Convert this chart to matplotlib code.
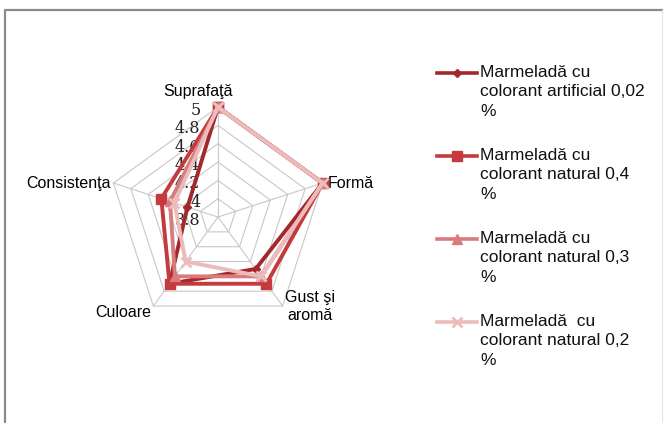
import numpy as np
import matplotlib.pyplot as plt
from matplotlib.lines import Line2D

plt.rcParams['font.family'] = ['Liberation Sans', 'DejaVu Sans']

# data
categories = ["Suprafaţă", "Formă", "Gust şi\naromă", "Culoare", "Consistenţa"]
art_002 = [5.0, 5.0, 4.5, 4.7, 4.15]
nat_04 = [5.0, 5.0, 4.7, 4.7, 4.45]
nat_03 = [5.0, 5.0, 4.6, 4.6, 4.35]
nat_02 = [5.0, 5.0, 4.6, 4.4, 4.3]
ticks = [3.8, 4.0, 4.2, 4.4, 4.6, 4.8, 5.0]
tick_labels = ["3.8", "4", "4.2", "4.4", "4.6", "4.8", "5"]
names = ["Marmeladă cu\ncolorant artificial 0,02\n%",
         "Marmeladă cu\ncolorant natural 0,4\n%",
         "Marmeladă cu\ncolorant natural 0,3\n%",
         "Marmeladă  cu\ncolorant natural 0,2\n%"]

R0, R1 = ticks[0], ticks[-1]
n = len(categories)
ang = np.pi / 2 - np.arange(n) * 2 * np.pi / n   # clockwise from top


def to_xy(vals, close=True):
    r = (np.asarray(vals, float) - R0) / (R1 - R0)
    a = ang
    if close:
        r = np.append(r, r[0])
        a = np.append(a, a[0])
    return r * np.cos(a), r * np.sin(a)


fig = plt.figure(figsize=(6.64, 4.23), dpi=100)
ax = fig.add_axes([0.0633, 0.0709, 0.530, 0.832])
ax.set_xlim(-1.6, 1.6)
ax.set_ylim(-1.6, 1.6)
ax.set_aspect('equal')
ax.axis('off')

# pentagon grid
for t in ticks[1:]:
    gx, gy = to_xy([t] * n)
    ax.plot(gx, gy, color='#c8c8c8', lw=0.8, zorder=1)
for a in ang:
    ax.plot([0, np.cos(a)], [0, np.sin(a)], color='#c8c8c8', lw=0.8, zorder=1)

# value labels along the top axis
for t, lab in zip(ticks, tick_labels):
    r = (t - R0) / (R1 - R0)
    ax.text(-0.16, r - 0.03, lab, ha='right', va='center', fontsize=11.5,
            family=['DejaVu Serif'], color='#222222')

# category labels
fs = 11.5
ax.text(-0.18, 1.07, categories[0], ha='center', va='bottom', fontsize=fs)
ax.text(np.cos(ang[1]) + 0.05, np.sin(ang[1]), categories[1], ha='left', va='center', fontsize=fs)
ax.text(np.cos(ang[2]) + 0.02, np.sin(ang[2]) + 0.15, categories[2], ha='left', va='top',
        fontsize=fs, multialignment='center', linespacing=1.25)
ax.text(np.cos(ang[3]) - 0.02, np.sin(ang[3]) - 0.06, categories[3], ha='right', va='center', fontsize=fs)
ax.text(np.cos(ang[4]) - 0.02, np.sin(ang[4]), categories[4], ha='right', va='center', fontsize=fs)

series = [art_002, nat_04, nat_03, nat_02]
colors = ['#a3282c', '#c53a3c', '#d97b7d', '#ecbcbd']
markers = ['D', 's', '^', 'x']
msizes = [4, 7, 7, 7]
for vals, c, m, ms in zip(series, colors, markers, msizes):
    x, y = to_xy(vals)
    ax.plot(x, y, color=c, lw=2.8, marker=m, ms=ms, mew=2 if m == 'x' else 1,
            mec=c, mfc=c, zorder=3)

# legend drawn by hand so the handle sits on the first text line
for i, (lab, c, m, ms) in enumerate(zip(names, colors, markers, msizes)):
    yy = 1 - (73 + i * 83) / 423
    fig.add_artist(Line2D([437 / 664, 477 / 664], [yy, yy], color=c, lw=2.6,
                          transform=fig.transFigure))
    fig.add_artist(Line2D([457 / 664], [yy], color=c, marker=m, ms=ms,
                          mew=2 if m == 'x' else 1, mec=c, mfc=c,
                          transform=fig.transFigure))
    fig.text(480 / 664, yy + 8 / 423, lab, ha='left', va='top', fontsize=12.5,
             linespacing=1.36, color='#111111')

# chart frame
fig.add_artist(Line2D([5 / 664, 5 / 664, 662 / 664], [0, 1 - 10 / 423, 1 - 10 / 423],
                      color='#8a8a8a', lw=1.6, transform=fig.transFigure))
fig.add_artist(Line2D([662 / 664, 662 / 664], [0, 1 - 10 / 423],
                      color='#e6e6e6', lw=0.8, transform=fig.transFigure))

fig.savefig('out.png', dpi=100)
